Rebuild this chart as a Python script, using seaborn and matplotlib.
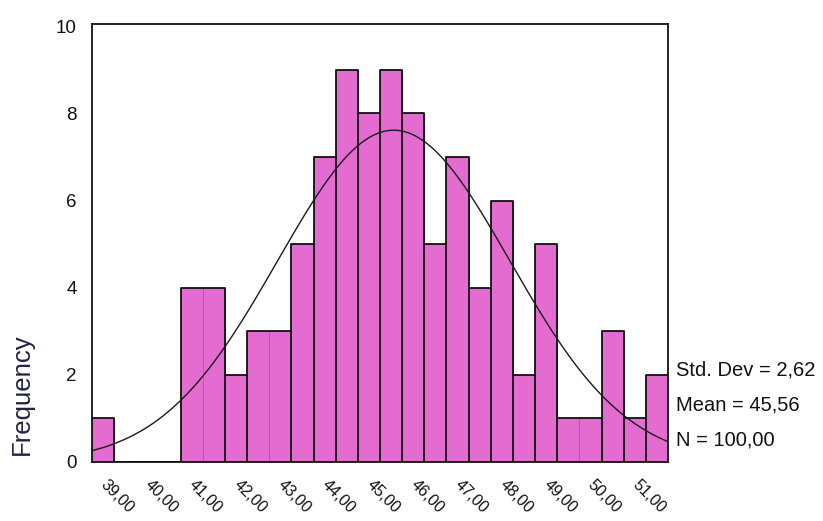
import numpy as np
import pandas as pd
import matplotlib
matplotlib.use("Agg")
import matplotlib.pyplot as plt
import matplotlib.transforms as mtransforms
import seaborn as sns

# ---- data ----
bin_centers = [39.0, 39.5, 40.0, 40.5, 41.0, 41.5, 42.0, 42.5, 43.0, 43.5,
               44.0, 44.5, 45.0, 45.5, 46.0, 46.5, 47.0, 47.5, 48.0, 48.5,
               49.0, 49.5, 50.0, 50.5, 51.0, 51.5]
counts = [1, 0, 0, 0, 4, 4, 2, 3, 3, 5,
          7, 9, 8, 9, 8, 5, 7, 4, 6, 2,
          5, 1, 1, 3, 1, 2]
bin_width = 0.5
tick_values = [39, 40, 41, 42, 43, 44, 45, 46, 47, 48, 49, 50, 51]
tick_labels = ["39,00", "40,00", "41,00", "42,00", "43,00", "44,00", "45,00",
               "46,00", "47,00", "48,00", "49,00", "50,00", "51,00"]
y_ticks = [0, 2, 4, 6, 8, 10]
std_dev = 2.62
mean = 45.56
n_total = 100
stats_lines = ["Std. Dev = 2,62", "Mean = 45,56", "N = 100,00"]

df = pd.DataFrame({"value": bin_centers, "count": counts})
edges = [c - bin_width / 2 for c in bin_centers] + [bin_centers[-1] + bin_width / 2]

sns.set_style("white")
plt.rcParams["font.family"] = ["Liberation Sans", "DejaVu Sans"]
plt.rcParams["text.color"] = "#111111"
plt.rcParams["xtick.color"] = "#111111"
plt.rcParams["ytick.color"] = "#111111"

fig = plt.figure(figsize=(8.23, 5.21), dpi=100)
ax = fig.add_axes([92 / 823, 1 - 462 / 521, (668 - 92) / 823, (462 - 24) / 521])

# filled bars with faint internal dividers
sns.histplot(data=df, x="value", weights="count", bins=edges, ax=ax,
             color="#E46BD0", alpha=1.0, edgecolor="#B455A6", linewidth=0.6)
# dark outline of the histogram
sns.histplot(data=df, x="value", weights="count", bins=edges, ax=ax,
             element="step", fill=False, color="#111111", linewidth=1.3)
# dark dividers between neighbouring bars of different height
for i in range(len(counts) - 1):
    a, b = counts[i], counts[i + 1]
    if a != b and min(a, b) > 0:
        ax.vlines(edges[i + 1], 0, min(a, b), color="#111111", linewidth=1.3)

# fitted normal curve (from the displayed mean / std / N)
xs = np.linspace(edges[0], edges[-1], 300)
ys = n_total * bin_width / (std_dev * np.sqrt(2 * np.pi)) * np.exp(-0.5 * ((xs - mean) / std_dev) ** 2)
sns.lineplot(x=xs, y=ys, ax=ax, color="#1a1a1a", linewidth=1.0)

ax.set_xlim(edges[0], edges[-1])
ax.set_ylim(0, 10.05)
ax.set_yticks(y_ticks)
ax.set_yticklabels([str(v) for v in y_ticks], fontsize=13.5)
ax.set_xticks(tick_values)
ax.set_xticklabels(tick_labels, fontsize=11.5, rotation=-45, ha="left", va="center",
                   rotation_mode="anchor")
offset = mtransforms.ScaledTranslation(6 / 100, 0, fig.dpi_scale_trans)
for lab in ax.get_xticklabels():
    lab.set_transform(lab.get_transform() + offset)
ax.tick_params(axis="both", length=0, labelcolor="#111111")
ax.tick_params(axis="y", pad=11)
ax.tick_params(axis="x", pad=15)
ax.set_xlabel("")
ax.set_ylabel("")
for s in ax.spines.values():
    s.set_visible(True)
    s.set_color("#111111")
    s.set_linewidth(1.3)
ax.grid(False)

fig.text(22 / 823, 1 - 394 / 521, "Frequency", rotation=90, ha="center", va="center",
         fontsize=18.5, color="#222244")

for i, line in enumerate(stats_lines):
    fig.text(676 / 823, 1 - (370 + 35 * i) / 521, line, ha="left", va="center",
             fontsize=14.5, color="#111111")

fig.savefig("out.png", dpi=100)
